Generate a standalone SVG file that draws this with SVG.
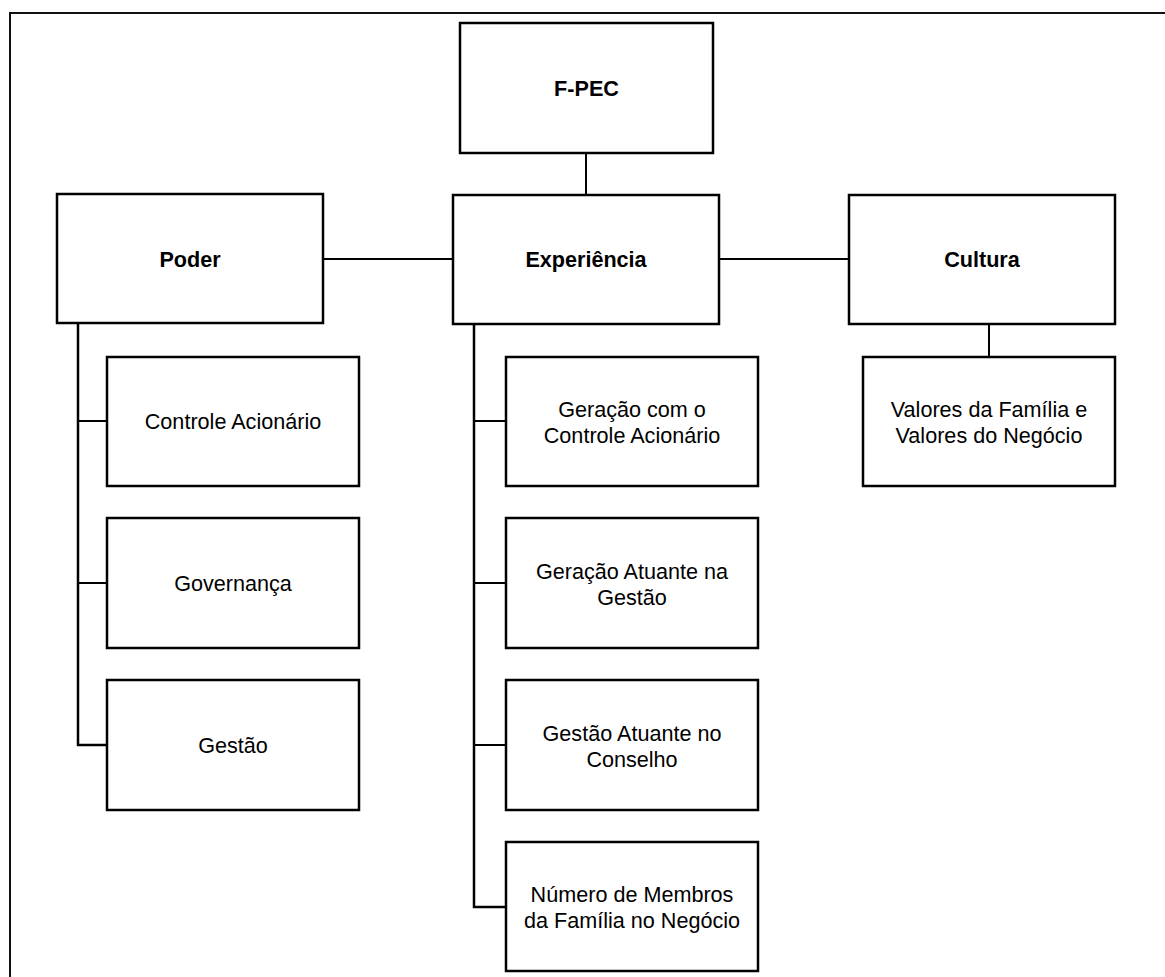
<svg xmlns="http://www.w3.org/2000/svg" width="1165" height="977" viewBox="0 0 1165 977">
  <style>
    .box { fill: #ffffff; stroke: #000000; stroke-width: 2.5; }
    .edge { fill: none; stroke: #000000; stroke-width: 2; }
    .trunk { fill: none; stroke: #000000; stroke-width: 2.5; }
    .frame { fill: none; stroke: #111111; stroke-width: 2; }
    .title { font-family: "Liberation Sans", Arial, sans-serif; font-size: 21.6px; font-weight: bold; fill: #000000; text-anchor: middle; }
    .label { font-family: "Liberation Sans", Arial, sans-serif; font-size: 21.6px; fill: #000000; text-anchor: middle; }
  </style>
  <rect width="1165" height="977" fill="#ffffff"/>
  <!-- outer frame, open to the right and bottom -->
  <path class="frame" d="M10,977 V13 H1165"/>

  <g id="connectors">
    <path class="edge" d="M586,153 V195"/>
    <path class="edge" d="M323,259 H453"/>
    <path class="edge" d="M719,259 H849"/>
    <path class="edge" d="M989,324 V357"/>
    <!-- Poder branch -->
    <path class="trunk" d="M78,323 V745 H107"/>
    <path class="edge" d="M78,421 H107"/>
    <path class="edge" d="M78,583 H107"/>
    <!-- Experiência branch -->
    <path class="trunk" d="M474,323 V907 H506"/>
    <path class="edge" d="M474,421 H506"/>
    <path class="edge" d="M474,583 H506"/>
    <path class="edge" d="M474,745 H506"/>
  </g>

  <g id="fpec">
    <rect class="box" x="460" y="23" width="253" height="130"/>
    <text class="title" x="586.5" y="96">F-PEC</text>
  </g>
  <g id="poder">
    <rect class="box" x="57" y="194" width="266" height="129"/>
    <text class="title" x="190" y="266.5">Poder</text>
  </g>
  <g id="experiencia">
    <rect class="box" x="453" y="195" width="266" height="129"/>
    <text class="title" x="586" y="266.5">Experiência</text>
  </g>
  <g id="cultura">
    <rect class="box" x="849" y="195" width="266" height="129"/>
    <text class="title" x="982" y="266.5">Cultura</text>
  </g>

  <g id="controle-acionario">
    <rect class="box" x="107" y="357" width="252" height="129"/>
    <text class="label" x="233" y="429">Controle Acionário</text>
  </g>
  <g id="governanca">
    <rect class="box" x="107" y="518" width="252" height="130"/>
    <text class="label" x="233" y="591">Governança</text>
  </g>
  <g id="gestao">
    <rect class="box" x="107" y="680" width="252" height="130"/>
    <text class="label" x="233" y="753">Gestão</text>
  </g>

  <g id="geracao-controle">
    <rect class="box" x="506" y="357" width="252" height="129"/>
    <text class="label" x="632" y="416.5">Geração com o</text>
    <text class="label" x="632" y="442.5">Controle Acionário</text>
  </g>
  <g id="geracao-gestao">
    <rect class="box" x="506" y="518" width="252" height="130"/>
    <text class="label" x="632" y="578.5">Geração Atuante na</text>
    <text class="label" x="632" y="604.5">Gestão</text>
  </g>
  <g id="gestao-conselho">
    <rect class="box" x="506" y="680" width="252" height="130"/>
    <text class="label" x="632" y="740.5">Gestão Atuante no</text>
    <text class="label" x="632" y="766.5">Conselho</text>
  </g>
  <g id="membros-familia">
    <rect class="box" x="506" y="842" width="252" height="129"/>
    <text class="label" x="632" y="901.5">Número de Membros</text>
    <text class="label" x="632" y="927.5">da Família no Negócio</text>
  </g>

  <g id="valores">
    <rect class="box" x="863" y="357" width="252" height="129"/>
    <text class="label" x="989" y="416.5">Valores da Família e</text>
    <text class="label" x="989" y="442.5">Valores do Negócio</text>
  </g>
</svg>
